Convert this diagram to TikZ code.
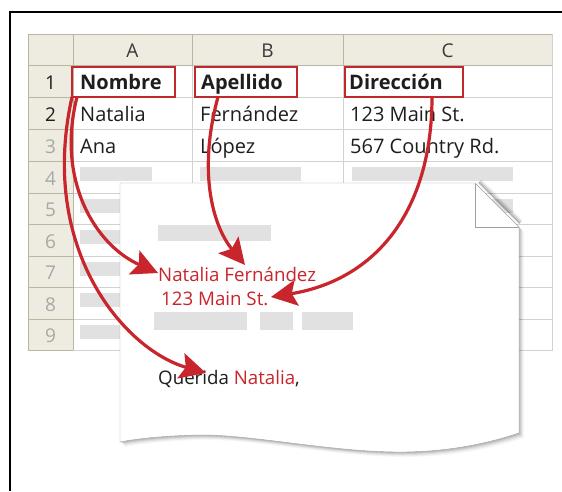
\documentclass[tikz,border=0pt]{standalone}
\usepackage{fontspec}
\setmainfont{Open Sans}
\usetikzlibrary{arrows.meta}
\definecolor{hdrfill}{HTML}{EEEBE0}
\definecolor{hdrline}{HTML}{B9B5A3}
\definecolor{gridline}{HTML}{D2D2D2}
\definecolor{boxred}{HTML}{C1272D}
\definecolor{arrred}{HTML}{C9252C}
\definecolor{bargray}{HTML}{E1E1E1}
\definecolor{pageline}{HTML}{A0A0A0}
\definecolor{txt}{HTML}{1E1E1E}
\definecolor{hdrtxt}{HTML}{3A3A3A}
\definecolor{numgray}{HTML}{A8A8A8}
\tikzset{
  cell/.style={anchor=base west, inner sep=0pt, text=txt, font=\fontsize{20}{24}\selectfont},
  hcell/.style={anchor=base west, inner sep=0pt, text=txt, font=\fontsize{20}{24}\selectfont\bfseries},
  colhead/.style={anchor=base, inner sep=0pt, text=hdrtxt, font=\fontsize{19}{22}\selectfont},
  rowhead/.style={anchor=base, inner sep=0pt, font=\fontsize{19}{22}\selectfont},
  redbox/.style={draw=boxred, line width=2.6pt, inner sep=0pt, minimum height=30pt},
  lettxt/.style={anchor=base west, inner sep=0pt, text=txt, font=\fontsize{18.7}{22}\selectfont},
  link/.style={draw=arrred, line width=3.2pt, -{Stealth[length=26pt,width=26pt,inset=5pt]}},
}
\begin{document}
\begin{tikzpicture}[x=1pt,y=-1pt]
\useasboundingbox (0,0) rectangle (562,491);
\fill[white] (0,0) rectangle (562,491);
% frame
\draw[line width=1.2pt] (10,491) -- (10,12) -- (562,12);
% spreadsheet headers
\fill[hdrfill] (28,34) rectangle (552,65);
\fill[hdrfill] (28,65) rectangle (73,350);
% body grid
\foreach \y in {97,129,161,193,224,256,287,319}
  \draw[gridline] (73,\y) -- (552,\y);
\foreach \x in {192,343}
  \draw[gridline] (\x,65) -- (\x,350);
\draw[gridline] (73,350) -- (552,350) -- (552,34);
% header lines
\foreach \y in {97,129,161,193,224,256,287,319}
  \draw[hdrline] (28,\y) -- (73,\y);
\foreach \x in {192,343}
  \draw[hdrline] (\x,34) -- (\x,65);
\draw[hdrline] (28,65) -- (552,65);
\draw[hdrline] (73,34) -- (73,350);
\draw[hdrline] (552,34) -- (28,34) -- (28,350) -- (73,350);
% column letters
\node[colhead] (colA) at (132.5,57) {A};
\node[colhead] (colB) at (267.5,57) {B};
\node[colhead] (colC) at (447.5,57) {C};
% row numbers
\foreach \n/\y/\c in {1/89/txt,2/121/txt,3/153/numgray,4/185/numgray,5/216.5/numgray,6/248/numgray,7/279.5/numgray,8/311/numgray,9/342.5/numgray}
  \node[rowhead, text=\c] (row\n) at (50.5,\y) {\n};
% placeholder bars
\foreach \yt in {161,193,224,256,287,319}
  \fill[bargray] (80,\yt+6) rectangle (152,\yt+20);
\fill[bargray] (200,167) rectangle (301,181);
\fill[bargray] (352,167) rectangle (513,181);
\fill[bargray] (352,199) rectangle (513,213);
% cell texts
\node[hcell] (nombre) at (80,89) {Nombre};
\node[hcell] (apellido) at (201,89) {Apellido};
\node[hcell] (direccion) at (349,89) {Dirección};
\node[cell] (a2) at (80,121) {Natalia};
\node[cell] (b2) at (200,121) {Fernández};
\node[cell] (c2) at (350,121) {123 Main St.};
\node[cell] (a3) at (80,153) {Ana};
\node[cell] (b3) at (200,153) {López};
\node[cell] (c3) at (350,153) {567 Country Rd.};
% red boxes
\node[redbox, minimum width=103pt] (bnom) at (123.5,82) {};
\node[redbox, minimum width=102pt] (bape) at (246,82) {};
\node[redbox, minimum width=118pt] (bdir) at (404,82) {};
% page shadow
\foreach \i/\o in {1/0.10,2/0.08,3/0.06,4/0.04,5/0.03}
  \fill[black, opacity=\o] (120+\i,183+\i) -- (475+\i,183+\i) -- (519+\i,227+\i) -- (519+\i,433+\i)
    .. controls (480+\i,446+\i) and (440+\i,452+\i) .. (400+\i,452+\i)
    .. controls (330+\i,452+\i) and (250+\i,434+\i) .. (197+\i,435+\i)
    .. controls (160+\i,436+\i) and (135+\i,439+\i) .. (120+\i,442+\i) -- cycle;
% fold shadow
\foreach \i/\o in {1/0.20,2/0.16,3/0.12,4/0.09,5/0.06,6/0.04,7/0.02}
  \draw[black, opacity=\o, line width=1.1pt] (475+\i*0.5+3,183-\i*0.5) -- (519+\i*0.5,227-\i*0.5-3);
% page
\draw[pageline, fill=white] (120,183) -- (475,183) -- (519,227) -- (519,433)
    .. controls (480,446) and (440,452) .. (400,452)
    .. controls (330,452) and (250,434) .. (197,435)
    .. controls (160,436) and (135,439) .. (120,442) -- cycle;
\draw[pageline] (475,183) -- (475,227) -- (519,227);
% letter bars
\fill[bargray] (158,225) rectangle (271,241);
\fill[bargray] (154,312) rectangle (247,330);
\fill[bargray] (260,312) rectangle (293,330);
\fill[bargray] (302,312) rectangle (353,330);
% letter text
\node[lettxt, text=arrred] (lname) at (158,281) {Natalia Fernández};
\node[lettxt, text=arrred] (laddr) at (161,305) {123 Main St.};
\node[lettxt] (greet) at (158,384) {Querida \textcolor{arrred}{Natalia},};
% arrow ends
\coordinate (s1) at (77,97);
\coordinate (s2) at (72,97);
\coordinate (s3) at (218,97);
\coordinate (s4) at (432,97);
\coordinate (t1) at (158,273);
\coordinate (t2) at (206,373);
\coordinate (t3) at (245,265);
\coordinate (t4) at (271,297);
% arrows
\draw[link] (s1) .. controls (56,180) and (95,245) .. (t1);
\draw[link] (s2) .. controls (38,250) and (125,350) .. (t2);
\draw[link] (s3) .. controls (198,170) and (212,225) .. (t3);
\draw[link] (s4) .. controls (432,212) and (375,280) .. (t4);
\end{tikzpicture}
\end{document}
